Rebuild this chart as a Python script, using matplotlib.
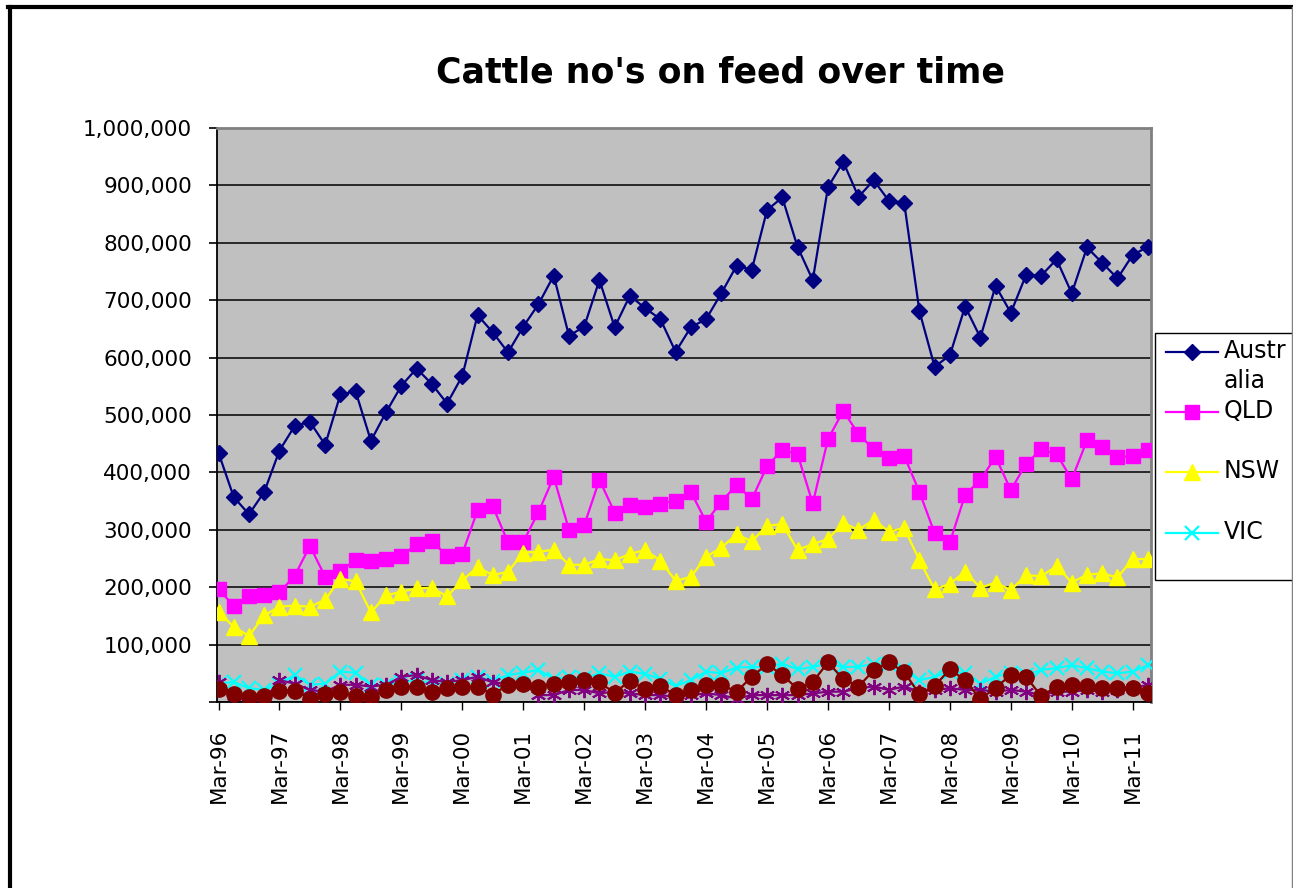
import numpy as np
import matplotlib
matplotlib.use("Agg")
import matplotlib.pyplot as plt
from matplotlib.lines import Line2D
from matplotlib.patches import Rectangle
from matplotlib.ticker import FuncFormatter, MultipleLocator

plt.rcParams["font.family"] = ["DejaVu Sans"]

# ── data: quarterly, Mar-96 .. Jun-11 ─────────────────────
quarters = [f"{m}-{y:02d}" for y in list(range(96, 100)) + list(range(0, 12))
            for m in ["Mar", "Jun", "Sep", "Dec"]][:62]

australia = [434000, 357000, 327000, 366000, 438000, 481000, 488000, 448000,
             536000, 541000, 455000, 505000, 551000, 581000, 554000, 520000,
             568000, 674000, 644000, 609000, 654000, 693000, 743000, 638000,
             654000, 735000, 653000, 708000, 686000, 667000, 610000, 653000,
             667000, 712000, 760000, 753000, 857000, 879000, 793000, 735000,
             897000, 941000, 880000, 909000, 873000, 870000, 681000, 584000,
             604000, 689000, 635000, 725000, 678000, 744000, 743000, 771000,
             712000, 792000, 765000, 738000, 779000, 793000]
qld = [196000, 168000, 184000, 186000, 191000, 220000, 272000, 218000,
       229000, 247000, 246000, 250000, 254000, 275000, 281000, 254000,
       258000, 334000, 341000, 278000, 279000, 331000, 392000, 300000,
       308000, 387000, 330000, 344000, 339000, 345000, 351000, 366000,
       314000, 349000, 378000, 353000, 411000, 439000, 432000, 346000,
       458000, 507000, 467000, 440000, 425000, 429000, 366000, 294000,
       278000, 361000, 387000, 427000, 369000, 415000, 440000, 432000,
       388000, 456000, 444000, 426000, 429000, 439000]
nsw = [157000, 131000, 115000, 151000, 166000, 168000, 166000, 178000,
       215000, 210000, 156000, 186000, 192000, 198000, 199000, 184000,
       212000, 235000, 221000, 227000, 260000, 262000, 265000, 239000,
       239000, 249000, 247000, 258000, 265000, 246000, 211000, 218000,
       253000, 269000, 292000, 280000, 307000, 310000, 265000, 275000,
       284000, 312000, 300000, 317000, 297000, 303000, 247000, 196000,
       206000, 227000, 199000, 208000, 195000, 221000, 219000, 237000,
       208000, 222000, 224000, 217000, 249000, 249000]
vic = [32000, 35000, 24000, 21000, 32000, 47000, 30000, 32000,
       53000, 51000, 30000, 30000, 35000, 38000, 32000, 32000,
       39000, 44000, 37000, 47000, 51000, 56000, 40000, 44000,
       41000, 50000, 44000, 53000, 49000, 40000, 28000, 38000,
       53000, 50000, 60000, 61000, 61000, 67000, 57000, 61000,
       67000, 61000, 61000, 67000, 67000, 56000, 38000, 44000,
       53000, 50000, 32000, 44000, 51000, 47000, 56000, 59000,
       64000, 59000, 53000, 50000, 53000, 64000]
other_a = [35000, 10000, 2000, 3000, 38000, 32000, 21000, 18000,
           30000, 30000, 27000, 30000, 44000, 47000, 38000, 35000,
           38000, 44000, 34000, 32000, 32000, 12000, 12000, 21000,
           21000, 15000, 18000, 15000, 12000, 12000, 9000, 12000,
           15000, 12000, 6000, 12000, 12000, 12000, 12000, 15000,
           18000, 18000, 24000, 27000, 21000, 27000, 18000, 21000,
           24000, 21000, 21000, 18000, 21000, 18000, 12000, 18000,
           18000, 21000, 18000, 21000, 24000, 30000]
other_b = [22000, 14000, 8000, 10000, 20000, 20000, 6000, 14000,
           17000, 11000, 9000, 21000, 27000, 27000, 17000, 24000,
           27000, 27000, 13000, 30000, 32000, 27000, 32000, 34000,
           38000, 34000, 16000, 37000, 22000, 28000, 12000, 21000,
           30000, 30000, 18000, 44000, 66000, 47000, 23000, 35000,
           69000, 40000, 27000, 55000, 69000, 52000, 14000, 28000,
           57000, 38000, 5000, 25000, 47000, 44000, 10000, 27000,
           30000, 28000, 24000, 24000, 24000, 16000]

# ── figure ───────────────────────────────────────────────
fig = plt.figure(figsize=(12.93, 8.88), dpi=100)
ax = fig.add_axes([217 / 1293, 1 - 702 / 888, (1151 - 217) / 1293, (702 - 128) / 888])
ax.set_facecolor("#C0C0C0")

x = np.arange(len(quarters))
lw = 1.6
l_aus, = ax.plot(x, australia, color="#000080", lw=lw, marker="D", ms=8, zorder=3)
l_qld, = ax.plot(x, qld, color="#FF00FF", lw=lw, marker="s", ms=10.5, zorder=3)
l_nsw, = ax.plot(x, nsw, color="#FFFF00", lw=lw, marker="^", ms=11, zorder=3)
l_vic, = ax.plot(x, vic, color="#00FFFF", lw=lw, marker="x", ms=10, mew=1.6, zorder=3)
ax.plot(x, other_a, color="#800080", lw=lw, marker=(6, 2, 0), ms=11, mew=1.4, zorder=3)
ax.plot(x, other_b, color="#800000", lw=lw, marker="o", ms=11, zorder=4)

ax.set_xlim(-0.1, 61.2)
ax.set_ylim(0, 1000000)
ax.yaxis.set_major_locator(MultipleLocator(100000))
ax.yaxis.set_major_formatter(FuncFormatter(lambda v, p: f"{int(v):,}" if v > 0 else ""))
ax.grid(axis="y", color="black", lw=1.1, zorder=1)
ax.set_axisbelow(True)

ax.set_xticks(x[::4])
ax.set_xticklabels(quarters[::4], rotation=90, fontsize=15.5)
ax.tick_params(axis="y", labelsize=15.5, length=6, width=1.2, pad=12, direction="out")
ax.tick_params(axis="x", length=6, width=1, pad=13, direction="out")

for s in ["left", "bottom"]:
    ax.spines[s].set_color("black")
    ax.spines[s].set_linewidth(1.3)
for s in ["top", "right"]:
    ax.spines[s].set_color("#808080")
    ax.spines[s].set_linewidth(2)

fig.text(720 / 1293, 1 - 72 / 888, "Cattle no's on feed over time",
         fontsize=25, fontweight="bold", ha="center", va="center")

# ── legend (clipped at right edge like the original) ──────
fig.add_artist(Rectangle((1155 / 1293, 1 - 580 / 888), 0.2, (580 - 333) / 888,
                         transform=fig.transFigure, facecolor="white",
                         edgecolor="black", lw=1))
entries = [(l_aus, "Austr\nalia", 352), (l_qld, "QLD", 412),
           (l_nsw, "NSW", 472), (l_vic, "VIC", 533)]
for line, label, yp in entries:
    yf = 1 - yp / 888
    fig.add_artist(Line2D([1166 / 1293, 1218 / 1293], [yf, yf], transform=fig.transFigure,
                          color=line.get_color(), lw=lw))
    fig.add_artist(Line2D([1192 / 1293], [yf], transform=fig.transFigure,
                          color=line.get_color(), marker=line.get_marker(),
                          ms=line.get_markersize(), mew=line.get_markeredgewidth()))
    fig.text(1224 / 1293, yf + 13 / 888, label, fontsize=17, ha="left", va="top",
             linespacing=1.3)

# ── outer frame ──────────────────────────────────────────
fig.add_artist(Line2D([9.5 / 1293, 9.5 / 1293], [0, 1 - 7.5 / 888], transform=fig.transFigure,
                      color="black", lw=3))
fig.add_artist(Line2D([8 / 1293, 1293 / 1293], [1 - 7.5 / 888, 1 - 7.5 / 888],
                      transform=fig.transFigure, color="black", lw=3))
fig.add_artist(Line2D([1291.5 / 1293, 1291.5 / 1293], [0, 1 - 7.5 / 888],
                      transform=fig.transFigure, color="#808080", lw=1))

fig.savefig("out.png", dpi=100)
